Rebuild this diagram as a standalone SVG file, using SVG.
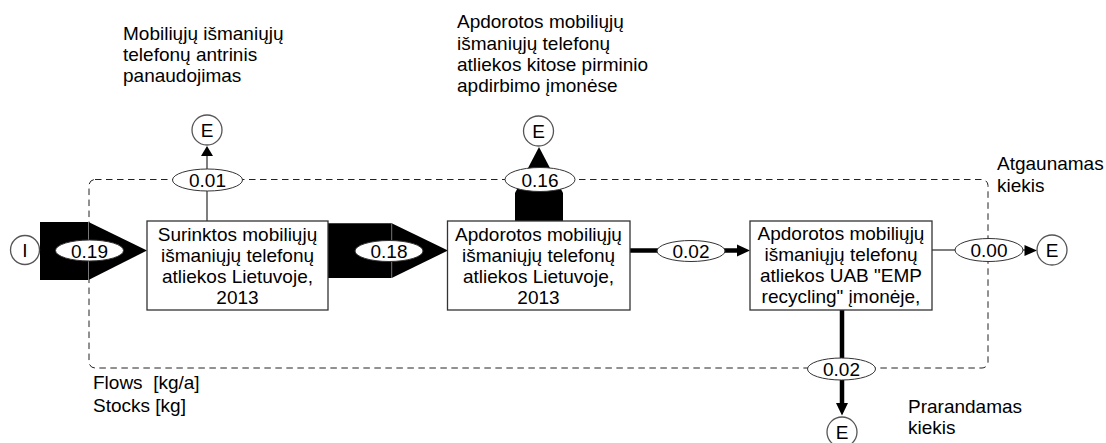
<svg xmlns="http://www.w3.org/2000/svg" width="1106" height="443" viewBox="0 0 1106 443">
<style>
text{font-family:"Liberation Sans",Arial,sans-serif;font-size:19px;fill:#000}
.c{text-anchor:middle}
.box{fill:#fff;stroke:#333;stroke-width:1.3}
.circ{fill:#fff;stroke:#555;stroke-width:1.3}
.ell{fill:#fff;stroke:#333;stroke-width:1}
.thin{stroke:#555;stroke-width:1.5;fill:none}
.thick{stroke:#000;stroke-width:4.5;fill:none}
.blk{fill:#000}
.junc{stroke:#777;stroke-width:1}
.bound{fill:none;stroke:#222;stroke-width:1;stroke-dasharray:6.5 4.5}
</style>
<g id="boundary">
<rect class="bound" x="89" y="179.5" width="899" height="188.5" rx="6"/>
<text x="997" y="170">Atgaunamas</text>
<text x="997" y="191.5">kiekis</text>
<text x="908" y="413">Prarandamas</text>
<text x="908" y="434">kiekis</text>
<text x="93" y="389">Flows&#160; [kg/a]</text>
<text x="93" y="411.5">Stocks [kg]</text>
</g>
<g id="connectors">
<g id="flow-019">
<polygon class="blk" points="40,222 88.5,222 147,250.5 88.5,280 40,280"/>
<line class="junc" x1="88.5" y1="222" x2="88.5" y2="280"/>
</g>
<g id="flow-018">
<polygon class="blk" points="328,223.3 391.7,223.3 448,250.5 391.7,278 328,278"/>
<line class="junc" x1="391.7" y1="223.3" x2="391.7" y2="278"/>
</g>
<g id="flow-016">
<polygon class="blk" points="515,221 515,193 539,147 563,193 563,221"/>
</g>
<g id="flow-001">
<line class="thin" x1="207" y1="221" x2="207" y2="155"/>
<polygon class="blk" points="207,146 213,156 201,156"/>
</g>
<g id="flow-002a">
<line class="thick" x1="630" y1="250.5" x2="738" y2="250.5"/>
<polygon class="blk" points="750,250.5 737,244.5 737,256.5"/>
</g>
<g id="flow-000">
<line class="thin" x1="932" y1="250" x2="1026" y2="250"/>
<polygon class="blk" points="1037,250.5 1024.5,245 1024.5,256"/>
</g>
<g id="flow-002b">
<line class="thick" x1="842" y1="310" x2="842" y2="404"/>
<polygon class="blk" points="842,415.5 836,403 848,403"/>
</g>
<g id="flow-labels">
<ellipse class="ell" cx="89.5" cy="250.5" rx="34" ry="10.5"/>
<text class="c" x="89.5" y="257.5">0.19</text>
<ellipse class="ell" cx="389" cy="251" rx="34" ry="10.5"/>
<text class="c" x="389" y="258">0.18</text>
<ellipse class="ell" cx="207.5" cy="180" rx="35" ry="11"/>
<text class="c" x="207.5" y="187">0.01</text>
<ellipse class="ell" cx="540" cy="179.5" rx="35" ry="12"/>
<text class="c" x="540" y="186.5">0.16</text>
<ellipse class="ell" cx="691" cy="251" rx="34" ry="10.5"/>
<text class="c" x="691" y="258">0.02</text>
<ellipse class="ell" cx="989" cy="250" rx="34" ry="11.5"/>
<text class="c" x="989" y="257">0.00</text>
<ellipse class="ell" cx="841.5" cy="369" rx="34" ry="11"/>
<text class="c" x="841.5" y="376">0.02</text>
</g>
</g>
<g id="node-I">
<circle class="circ" cx="25" cy="250" r="14.5"/>
<text class="c" x="25" y="257">I</text>
</g>
<g id="node-E1">
<circle class="circ" cx="207" cy="130" r="15"/>
<text class="c" x="207" y="137">E</text>
<text x="123" y="39.5">Mobiliųjų išmaniųjų</text>
<text x="123" y="60.5">telefonų antrinis</text>
<text x="123" y="81.5">panaudojimas</text>
</g>
<g id="node-E2">
<circle class="circ" cx="538.5" cy="131" r="15"/>
<text class="c" x="538.5" y="138">E</text>
<text x="457" y="28">Apdorotos mobiliųjų</text>
<text x="457" y="49.5">išmaniųjų telefonų</text>
<text x="457" y="70.5">atliekos kitose pirminio</text>
<text x="457" y="91.5">apdirbimo įmonėse</text>
</g>
<g id="node-E3">
<circle class="circ" cx="1052" cy="250" r="15"/>
<text class="c" x="1052" y="257">E</text>
</g>
<g id="node-E4">
<circle class="circ" cx="842" cy="432" r="15"/>
<text class="c" x="842" y="439">E</text>
</g>
<g id="box1">
<rect class="box" x="147" y="221" width="181" height="89"/>
<text class="c" x="237.5" y="240.5">Surinktos mobiliųjų</text>
<text class="c" x="237.5" y="261.5">išmaniųjų telefonų</text>
<text class="c" x="237.5" y="282.5">atliekos Lietuvoje,</text>
<text class="c" x="237.5" y="303.5">2013</text>
</g>
<g id="box2">
<rect class="box" x="447.5" y="221" width="182.5" height="89"/>
<text class="c" x="538.5" y="240.5">Apdorotos mobiliųjų</text>
<text class="c" x="538.5" y="261.5">išmaniųjų telefonų</text>
<text class="c" x="538.5" y="282.5">atliekos Lietuvoje,</text>
<text class="c" x="538.5" y="303.5">2013</text>
</g>
<g id="box3">
<rect class="box" x="750" y="221" width="182" height="89"/>
<text class="c" x="841" y="240">Apdorotos mobiliųjų</text>
<text class="c" x="841" y="261">išmaniųjų telefonų</text>
<text class="c" x="841" y="282">atliekos UAB "EMP</text>
<text class="c" x="841" y="303">recycling" įmonėje,</text>
</g>
</svg>
